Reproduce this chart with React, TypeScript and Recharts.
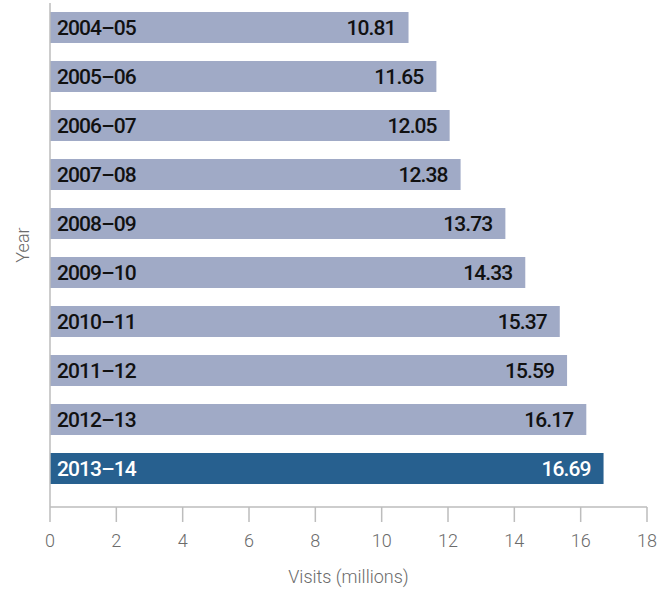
import React from 'react';
import { BarChart, Bar, XAxis, YAxis, Cell, LabelList } from 'recharts';

const years = ['2004–05', '2005–06', '2006–07', '2007–08', '2008–09', '2009–10', '2010–11', '2011–12', '2012–13', '2013–14'];
const visits = [10.81, 11.65, 12.05, 12.38, 13.73, 14.33, 15.37, 15.59, 16.17, 16.69];
const xTicks = [0, 2, 4, 6, 8, 10, 12, 14, 16, 18];

const data = years.map((year, i) => ({ year, visits: visits[i] }));

const LIGHT = '#A0AAC6';
const DARK = '#27608F';
const AXIS = '#BDBDBD';
const FONT = 'Roboto, "Liberation Sans", Arial, sans-serif';
const LABEL_FS = 21;

const lastIdx = data.length - 1;

const YearLabel = (props: any) => {
  const { x, y, height, value, index } = props;
  return (
    <text
      x={x + 7}
      y={y + height / 2 + LABEL_FS * 0.355}
      fill={index === lastIdx ? '#FFFFFF' : '#111111'}
      fontFamily={FONT}
      fontWeight={500}
      fontSize={LABEL_FS}
      letterSpacing={-0.9}
      textAnchor="start"
    >
      {value}
    </text>
  );
};

const ValueLabel = (props: any) => {
  const { x, y, width, height, value, index } = props;
  return (
    <text
      x={x + width - 13}
      y={y + height / 2 + LABEL_FS * 0.355}
      fill={index === lastIdx ? '#FFFFFF' : '#111111'}
      fontFamily={FONT}
      fontWeight={500}
      fontSize={LABEL_FS}
      letterSpacing={-0.9}
      textAnchor="end"
    >
      {Number(value).toFixed(2)}
    </text>
  );
};

export default function App() {
  return (
    <div style={{ position: 'absolute', left: 0, top: 0, background: '#fff' }}>
      <BarChart
        width={659}
        height={589}
        data={data}
        layout="vertical"
        margin={{ top: 3, right: 12, bottom: 0, left: 0 }}
      >
        <XAxis
          type="number"
          domain={[0, 18]}
          ticks={xTicks}
          interval={0}
          height={82}
          tickSize={15}
          tickMargin={12}
          axisLine={{ stroke: AXIS, strokeWidth: 1.5 }}
          tickLine={{ stroke: AXIS, strokeWidth: 1.5 }}
          tick={{ fill: '#6b6b6b', fontSize: 18, fontFamily: FONT, fontWeight: 300 }}
          label={{
            content: (p: any) => {
              const vb = p.viewBox;
              return (
                <text
                  x={vb.x + vb.width / 2}
                  y={583}
                  textAnchor="middle"
                  fill="#6b6b6b"
                  fontFamily={FONT}
                  fontWeight={300}
                  fontSize={18}
                >
                  Visits (millions)
                </text>
              );
            },
          }}
        />
        <YAxis
          type="category"
          dataKey="year"
          width={50}
          tick={false}
          tickLine={false}
          padding={{ top: 0, bottom: 14 }}
          axisLine={{ stroke: AXIS, strokeWidth: 1.5 }}
          label={{
            content: () => {
              const cx = 22;
              const cy = 245;
              return (
                <text
                  x={cx}
                  y={cy}
                  transform={`rotate(-90, ${cx}, ${cy})`}
                  textAnchor="middle"
                  dominantBaseline="central"
                  fill="#6b6b6b"
                  fontFamily={FONT}
                  fontWeight={300}
                  fontSize={18}
                >
                  Year
                </text>
              );
            },
          }}
        />
        <Bar dataKey="visits" barSize={31} isAnimationActive={false}>
          {data.map((d, i) => (
            <Cell key={d.year} fill={i === lastIdx ? DARK : LIGHT} />
          ))}
          <LabelList dataKey="year" content={YearLabel} />
          <LabelList dataKey="visits" content={ValueLabel} />
        </Bar>
      </BarChart>
    </div>
  );
}
